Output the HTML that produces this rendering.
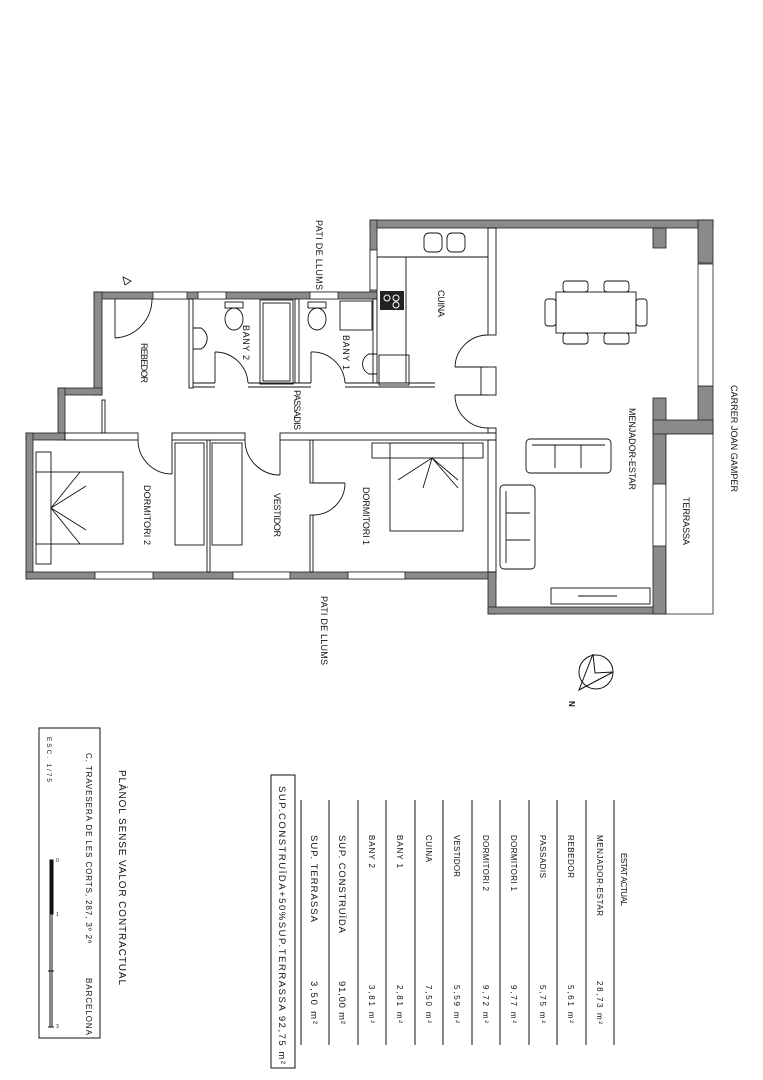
<!DOCTYPE html>
<html><head><meta charset="utf-8"><style>
html,body{margin:0;padding:0;background:#fff;}
svg{display:block;}
text{font-family:"Liberation Sans",sans-serif;fill:#111;}
</style></head><body>
<svg width="763" height="1080" viewBox="0 0 763 1080" xmlns="http://www.w3.org/2000/svg">
<g fill="#8a8a8a" stroke="#222" stroke-width="0.8">
<rect x="370" y="220" width="343" height="8"/>
<rect x="370" y="220" width="7" height="79"/>
<rect x="94" y="292" width="283" height="7"/>
<rect x="94" y="292" width="8" height="103"/>
<rect x="58" y="388" width="44" height="7"/>
<rect x="58" y="388" width="7" height="52"/>
<rect x="26" y="433" width="39" height="7"/>
<rect x="26" y="433" width="7" height="146"/>
<rect x="26" y="572" width="470" height="7"/>
<rect x="488" y="572" width="8" height="42"/>
<rect x="488" y="607" width="178" height="7"/>
<rect x="698" y="220" width="15" height="43"/>
<rect x="698" y="386" width="15" height="48"/>
<rect x="653" y="398" width="13" height="216"/>
<rect x="653" y="420" width="60" height="14"/>
<rect x="653" y="228" width="13" height="20"/>
</g>
<g fill="#fff" stroke="#222" stroke-width="0.8">
<rect x="153" y="292" width="34" height="7"/><rect x="198" y="292" width="28" height="7"/><rect x="310" y="292" width="28" height="7"/>
<rect x="370" y="250" width="7" height="40"/>
<rect x="95" y="572" width="58" height="7"/><rect x="233" y="572" width="57" height="7"/><rect x="348" y="572" width="57" height="7"/>
<rect x="698" y="264" width="15" height="122"/>
<rect x="653" y="484" width="13" height="62"/>
<rect x="666" y="434" width="47" height="180"/>
</g>
<g fill="none" stroke="#111" stroke-width="0.9">
<rect x="65" y="433" width="73" height="7"/><rect x="172" y="433" width="73" height="7"/><rect x="280" y="433" width="216" height="7"/>
<rect x="189" y="299" width="4" height="89"/><rect x="295" y="299" width="4" height="84"/><rect x="373" y="299" width="4" height="84"/>
<line x1="193" y1="383" x2="215" y2="383"/><line x1="248" y1="383" x2="311" y2="383"/><line x1="345" y1="383" x2="435" y2="383"/>
<line x1="193" y1="387" x2="215" y2="387"/><line x1="248" y1="387" x2="311" y2="387"/><line x1="345" y1="387" x2="435" y2="387"/>
<rect x="207" y="440" width="3" height="132"/><rect x="310" y="440" width="3" height="43"/><rect x="310" y="515" width="3" height="57"/>
<rect x="488" y="440" width="8" height="132"/>
<rect x="488" y="228" width="8" height="107"/><rect x="481" y="367" width="15" height="28"/><rect x="488" y="428" width="8" height="5"/>
<rect x="102" y="400" width="3" height="33"/>
<line x1="115" y1="299" x2="115" y2="338"/><path d="M115 338 A39 39 0 0 0 152 299"/>
<line x1="172" y1="440" x2="172" y2="474"/><path d="M138 440 A34 34 0 0 0 172 474"/>
<line x1="280" y1="440" x2="280" y2="475"/><path d="M245 440 A35 35 0 0 0 280 475"/>
<line x1="313" y1="483" x2="345" y2="483"/><path d="M345 483 A32 32 0 0 1 313 515"/>
<line x1="215" y1="352" x2="215" y2="383"/><path d="M215 352 A33 33 0 0 1 248 383"/>
<line x1="311" y1="352" x2="311" y2="383"/><path d="M311 352 A33 33 0 0 1 345 383"/>
<line x1="455" y1="367" x2="488" y2="367"/><path d="M488 335 A33 33 0 0 0 455 367"/>
<line x1="455" y1="395" x2="488" y2="395"/><path d="M455 395 A33 33 0 0 0 488 428"/>
<polyline points="377,257 406,257 406,383"/><line x1="406" y1="257" x2="488" y2="257"/>
<rect x="424" y="233" width="18" height="19" rx="5"/><rect x="447" y="233" width="18" height="19" rx="5"/>
<rect x="379" y="355" width="30" height="30"/>
<rect x="260" y="300" width="33" height="84"/><rect x="263" y="303" width="27" height="78"/>
<rect x="340" y="301" width="32" height="29"/>
<rect x="225" y="302" width="18" height="6"/><ellipse cx="234" cy="319" rx="9" ry="11"/>
<rect x="308" y="302" width="18" height="6"/><ellipse cx="317" cy="319" rx="9" ry="11"/>
<path d="M193 328 L201 328 A12 12 0 0 1 201 349 L193 349"/>
<path d="M377 354 L369 354 A11 11 0 0 0 369 374 L377 374"/>
<rect x="556" y="292" width="80" height="41"/>
<rect x="563" y="281" width="25" height="11" rx="3"/><rect x="604" y="281" width="25" height="11" rx="3"/>
<rect x="563" y="333" width="25" height="11" rx="3"/><rect x="604" y="333" width="25" height="11" rx="3"/>
<rect x="545" y="299" width="11" height="27" rx="3"/><rect x="636" y="299" width="11" height="27" rx="3"/>
<rect x="526" y="439" width="85" height="34" rx="4"/><line x1="532" y1="445" x2="605" y2="445"/>
<line x1="555" y1="445" x2="555" y2="468"/><line x1="581" y1="445" x2="581" y2="468"/>
<rect x="500" y="485" width="35" height="84" rx="4"/><line x1="506" y1="491" x2="506" y2="563"/>
<line x1="506" y1="513" x2="530" y2="513"/><line x1="506" y1="540" x2="530" y2="540"/>
<rect x="551" y="588" width="99" height="16"/><line x1="578" y1="596" x2="617" y2="596"/>
<rect x="372" y="443" width="111" height="15"/><rect x="390" y="443" width="73" height="88"/>
<polyline points="398,480 432,458 423,488"/><polyline points="458,480 432,458 458,488"/>
<rect x="36" y="452" width="15" height="112"/><rect x="36" y="472" width="87" height="72"/>
<polyline points="80,472 51,508 86,486"/><polyline points="80,544 51,508 86,530"/>
<rect x="175" y="443" width="29" height="102"/><rect x="212" y="443" width="30" height="102"/>
</g>
<rect x="380" y="291" width="24" height="19" fill="#222"/>
<circle cx="387" cy="298" r="3" fill="none" stroke="#fff"/><circle cx="396" cy="298" r="3" fill="none" stroke="#fff"/><circle cx="396" cy="305" r="3" fill="none" stroke="#fff"/>
<path d="M123 277 L131 281 L125 285 Z" fill="none" stroke="#111" stroke-width="0.8"/>
<circle cx="596" cy="672" r="17" fill="none" stroke="#111"/>
<polyline points="593,654 595,673 613,672 579,690 593,654" fill="none" stroke="#111"/>
<text x="572" y="704" font-size="8" font-weight="bold" transform="rotate(90 572 701)">N</text>
<g font-size="9">
<text transform="translate(316,220) rotate(90)" textLength="70">PATI DE LLUMS</text>
<text transform="translate(321,596) rotate(90)" textLength="69">PATI DE LLUMS</text>
<text transform="translate(141,343) rotate(90)" textLength="40">REBEDOR</text>
<text transform="translate(243,325) rotate(90)" textLength="35">BANY 2</text>
<text transform="translate(343,335) rotate(90)" textLength="35">BANY 1</text>
<text transform="translate(294,390) rotate(90)" textLength="40">PASSADIS</text>
<text transform="translate(438,290) rotate(90)" textLength="27">CUINA</text>
<text transform="translate(144,485) rotate(90)" textLength="60">DORMITORI 2</text>
<text transform="translate(274,493) rotate(90)" textLength="44">VESTIDOR</text>
<text transform="translate(363,487) rotate(90)" textLength="58">DORMITORI 1</text>
<text transform="translate(629,408) rotate(90)" textLength="82">MENJADOR-ESTAR</text>
<text transform="translate(683,497) rotate(90)" textLength="48">TERRASSA</text>
<text transform="translate(731,385) rotate(90)" textLength="107">CARRER JOAN GAMPER</text>
</g>
<g stroke="#111" stroke-width="1">
<line x1="301" y1="800" x2="301" y2="1045"/><line x1="329" y1="800" x2="329" y2="1045"/><line x1="358" y1="800" x2="358" y2="1045"/>
<line x1="386" y1="800" x2="386" y2="1045"/><line x1="415" y1="800" x2="415" y2="1045"/><line x1="443" y1="800" x2="443" y2="1045"/>
<line x1="472" y1="800" x2="472" y2="1045"/><line x1="500" y1="800" x2="500" y2="1045"/><line x1="529" y1="800" x2="529" y2="1045"/>
<line x1="557" y1="800" x2="557" y2="1045"/><line x1="586" y1="800" x2="586" y2="1045"/><line x1="614" y1="800" x2="614" y2="1045"/>
</g>
<rect x="271" y="775" width="24" height="293" fill="none" stroke="#111"/>
<g font-size="8">
<text transform="translate(621,853) rotate(90)" textLength="53">ESTAT ACTUAL</text>
<text transform="translate(597,835) rotate(90)" textLength="81">MENJADOR-ESTAR</text><text transform="translate(597,981) rotate(90)" textLength="43">28,73 m²</text>
<text transform="translate(568,835) rotate(90)" textLength="43">REBEDOR</text><text transform="translate(568,985) rotate(90)" textLength="38">5,61 m²</text>
<text transform="translate(540,835) rotate(90)" textLength="43">PASSADIS</text><text transform="translate(540,985) rotate(90)" textLength="38">5,75 m²</text>
<text transform="translate(511,835) rotate(90)" textLength="56">DORMITORI 1</text><text transform="translate(511,985) rotate(90)" textLength="38">9,77 m²</text>
<text transform="translate(483,835) rotate(90)" textLength="56">DORMITORI 2</text><text transform="translate(483,985) rotate(90)" textLength="38">9,72 m²</text>
<text transform="translate(454,835) rotate(90)" textLength="42">VESTIDOR</text><text transform="translate(454,985) rotate(90)" textLength="38">5,59 m²</text>
<text transform="translate(426,835) rotate(90)" textLength="27">CUINA</text><text transform="translate(426,985) rotate(90)" textLength="38">7,50 m²</text>
<text transform="translate(397,835) rotate(90)" textLength="33">BANY 1</text><text transform="translate(397,985) rotate(90)" textLength="38">2,81 m²</text>
<text transform="translate(369,835) rotate(90)" textLength="33">BANY 2</text><text transform="translate(369,985) rotate(90)" textLength="38">3,81 m²</text>
</g>
<g font-size="9.5">
<text transform="translate(339,835) rotate(90)" textLength="98">SUP.  CONSTRUÏDA</text><text transform="translate(339,981) rotate(90)" textLength="43">91,00 m²</text>
<text transform="translate(311,835) rotate(90)" textLength="87">SUP.  TERRASSA</text><text transform="translate(311,981) rotate(90)" textLength="43">3,50 m²</text>
<text transform="translate(279,786) rotate(90)" textLength="278">SUP.CONSTRUÏDA+50%SUP.TERRASSA   92,75 m²</text>
<text transform="translate(119,770) rotate(90)" font-size="10" textLength="215">PLÀNOL SENSE VALOR CONTRACTUAL</text>
</g>
<rect x="39" y="728" width="61" height="310" fill="none" stroke="#111"/>
<g font-size="8">
<text transform="translate(86,753) rotate(90)" textLength="190">C. TRAVESERA DE LES CORTS, 287, 3º 2ª</text>
<text transform="translate(86,978) rotate(90)" textLength="57">BARCELONA</text>
<text transform="translate(47,737) rotate(90)" font-size="6.5" textLength="45">ESC. 1/75</text>
</g>
<g stroke="#111">
<line x1="50" y1="860" x2="50" y2="1027"/><line x1="52" y1="860" x2="52" y2="1027"/>
<rect x="50" y="860" width="3" height="54" fill="#111"/>
<line x1="48" y1="971" x2="54" y2="971"/><line x1="48" y1="1027" x2="54" y2="1027"/>
</g>
<g font-size="5"><text x="56" y="862">0</text><text x="56" y="916">1</text><text x="56" y="1028">3</text></g>
</svg>
</body></html>
